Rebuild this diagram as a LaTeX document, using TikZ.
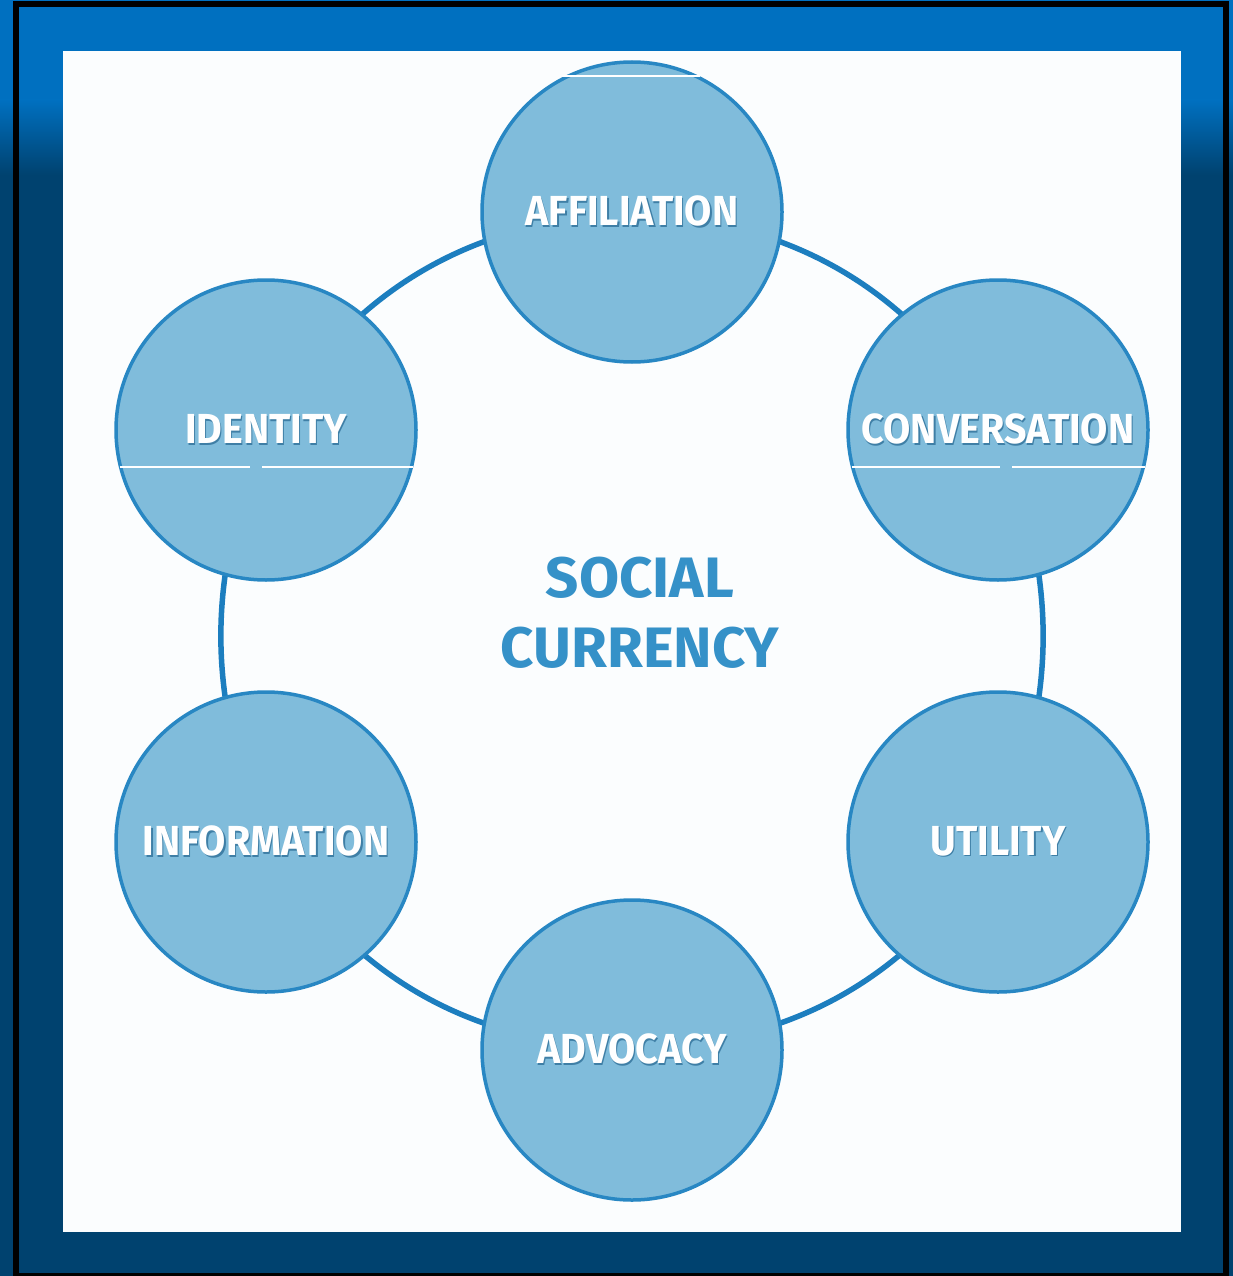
\documentclass[tikz,border=0pt]{standalone}
\usepackage{fontspec}
\setmainfont{Fira Sans}
\newfontfamily\labfont{Fira Sans}[FakeStretch=0.94]
\newfontfamily\cenfont{Fira Sans}[FakeStretch=1.02]
\usetikzlibrary{backgrounds}
\definecolor{frametop}{HTML}{0070C0}
\definecolor{framebot}{HTML}{00426F}
\definecolor{panelc}{HTML}{FBFDFE}
\definecolor{bubblefill}{HTML}{80BCDB}
\definecolor{bubbleedge}{HTML}{2887C3}
\definecolor{ringc}{HTML}{1C7EBF}
\definecolor{centerc}{HTML}{3591C8}
\definecolor{shadowc}{HTML}{3F7FA6}
\newcommand\shtext[1]{\makebox[0pt][l]{\hspace*{1.3pt}\raisebox{-1.3pt}{\textcolor{shadowc}{#1}}}#1}
\tikzset{
  bubble/.style={circle, minimum size=300pt, inner sep=0pt, fill=bubblefill,
    draw=bubbleedge, line width=3.5pt, text=white,
    font=\labfont\bfseries\fontsize{42}{44}\selectfont},
  ring/.style={draw=ringc, line width=5.5pt},
  centertext/.style={anchor=base, inner sep=0pt, text=centerc,
    font=\cenfont\bfseries\fontsize{57}{60}\selectfont},
  artifact/.style={draw=white, line width=1.5pt}
}
\begin{document}
\begin{tikzpicture}[x=1pt,y=-1pt]
\useasboundingbox (0,0) rectangle (1233,1276);
% bubbles
\node[bubble] (aff) at (632,212) {\shtext{AFFILIATION}};
\node[bubble] (con) at (998,430) {\shtext{CONVERSATION}};
\node[bubble] (uti) at (998,842) {\shtext{UTILITY}};
\node[bubble] (adv) at (632,1050) {\shtext{ADVOCACY}};
\node[bubble] (inf) at (266,842) {\shtext{INFORMATION}};
\node[bubble] (ide) at (266,430) {\shtext{IDENTITY}};
% center text
\node[centertext] (soc) at (640,597) {SOCIAL};
\node[centertext] (cur) at (640,667) {CURRENCY};
% scan artifacts
\draw[artifact] (120,467) -- (250,467) (262,467) -- (413,467);
\draw[artifact] (852,467) -- (1000,467) (1012,467) -- (1145,467);
\draw[artifact] (562,76) -- (700,76);
\begin{scope}[on background layer]
  \fill[framebot] (0,0) rectangle (1233,1276);
  \fill[frametop] (0,0) rectangle (1233,100);
  \shade[top color=frametop, bottom color=framebot] (0,100) rectangle (1233,175);
  \draw[black, line width=6pt] (16,4.5) rectangle (1225.5,1276);
  \fill[panelc] (63,51) rectangle (1181,1232);
  \draw[ring] (aff.center) to[bend left=27] (con.center);
  \draw[ring] (con.center) to[bend left=22] (uti.center);
  \draw[ring] (uti.center) to[bend left=27] (adv.center);
  \draw[ring] (adv.center) to[bend left=27] (inf.center);
  \draw[ring] (inf.center) to[bend left=22] (ide.center);
  \draw[ring] (ide.center) to[bend left=27] (aff.center);
\end{scope}
\end{tikzpicture}
\end{document}
